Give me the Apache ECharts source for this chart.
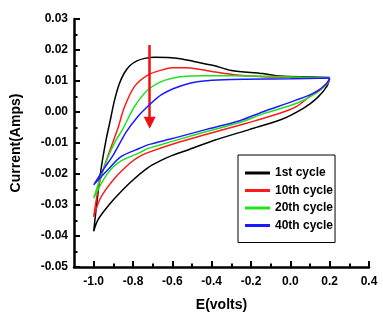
<!DOCTYPE html>
<html>
<head>
<meta charset="utf-8">
<script src="https://cdn.jsdelivr.net/npm/echarts@6/dist/echarts.min.js"></script>
<style>html,body{margin:0;padding:0;background:#fff}#c{width:383px;height:324px}</style>
</head>
<body>
<div id="c"></div>
<script>
var seriesNames = ['1st cycle', '10th cycle', '20th cycle', '40th cycle'];
var seriesColors = ['#000000', '#ff1a1a', '#22e022', '#1a1aff'];

var cycle1 = [[0.2,0.0108],[0.185,0.0082],[0.134,0.0044],[0.066,0.0012],[-0.053,-0.0026],[-0.206,-0.0056],[-0.39,-0.0092],[-0.511,-0.0120],[-0.6,-0.0140],[-0.66,-0.0157],[-0.725,-0.0180],[-0.81,-0.0225],[-0.895,-0.0280],[-0.95,-0.0322],[-0.98,-0.0350],[-1.0,-0.0385],
  [-0.985,-0.030],[-0.963,-0.0187],[-0.937,-0.009],[-0.915,-0.0025],[-0.895,0.0035],[-0.87,0.0090],[-0.845,0.0125],[-0.815,0.0150],[-0.78,0.0165],[-0.74,0.0173],[-0.69,0.0177],[-0.623,0.0176],[-0.56,0.0172],[-0.49,0.0163],[-0.39,0.0150],[-0.3,0.0134],[-0.14,0.0124],[-0.053,0.0116],[0.1,0.0113],[0.2,0.0111]];
var cycle10 = [[0.2,0.0108],[0.185,0.0088],[0.117,0.006],[0.032,0.0018],[-0.053,-0.0004],[-0.222,-0.0036],[-0.426,-0.0072],[-0.596,-0.0103],[-0.725,-0.0131],[-0.766,-0.0143],[-0.81,-0.0162],[-0.895,-0.0215],[-0.963,-0.0275],[-1.0,-0.0338],
  [-0.971,-0.023],[-0.929,-0.0144],[-0.878,-0.0055],[-0.844,0.0015],[-0.793,0.0082],[-0.725,0.0119],[-0.657,0.0135],[-0.6,0.0143],[-0.53,0.0143],[-0.45,0.0136],[-0.393,0.013],[-0.273,0.0119],[-0.138,0.0114],[0.2,0.011]];
var cycle20 = [[0.2,0.0108],[0.185,0.0091],[0.134,0.0062],[0.032,0.0028],[-0.138,-0.0006],[-0.257,-0.0034],[-0.426,-0.0063],[-0.596,-0.0094],[-0.725,-0.0118],[-0.766,-0.0131],[-0.861,-0.0158],[-0.929,-0.0198],[-1.0,-0.0278],
  [-0.97,-0.022],[-0.93,-0.015],[-0.89,-0.0095],[-0.852,-0.0055],[-0.793,0.0017],[-0.725,0.0071],[-0.657,0.0098],[-0.6,0.0109],[-0.53,0.0115],[-0.45,0.0117],[-0.3,0.0117],[-0.053,0.0114],[0.2,0.011]];
var cycle40 = [[0.2,0.0108],[0.185,0.0093],[0.134,0.0066],[0.032,0.0039],[-0.138,0.0001],[-0.257,-0.0028],[-0.426,-0.0056],[-0.596,-0.0085],[-0.725,-0.0106],[-0.766,-0.0117],[-0.861,-0.0144],[-0.929,-0.0187],[-1.0,-0.0235],
  [-0.95,-0.0185],[-0.9,-0.0138],[-0.835,-0.0065],[-0.776,-0.0015],[-0.708,0.0028],[-0.657,0.0055],[-0.596,0.0075],[-0.511,0.0093],[-0.426,0.0101],[-0.3,0.0105],[0.0,0.0107],[0.2,0.011]];

var xMajorTicks = [-1.0,-0.8,-0.6,-0.4,-0.2,0.0,0.2,0.4];
var xMinorTicks = [-0.9,-0.7,-0.5,-0.3,-0.1,0.1,0.3];
var arrowX = [-0.715, -0.715];
var arrowY = [0.0216, -0.0035];

var allData = [cycle1, cycle10, cycle20, cycle40];
var font = 'Liberation Sans, Arial, sans-serif';

var series = seriesNames.map(function (n, i) {
  return {
    name: n, type: 'line', data: allData[i], smooth: 0.3, symbol: 'none',
    lineStyle: { color: seriesColors[i], width: 1.5 }, itemStyle: { color: seriesColors[i] },
    z: 2 + i
  };
});
series.push({
  name: 'arrow', type: 'line', data: [], silent: true, z: 10,
  markLine: {
    silent: true, animation: false,
    symbol: ['none', 'triangle'], symbolSize: 12,
    label: { show: false },
    lineStyle: { color: '#ee1111', width: 2.5, type: 'solid' },
    itemStyle: { color: '#ee1111' },
    data: [[{ coord: [arrowX[0], arrowY[0]] }, { coord: [arrowX[1], arrowY[1]] }]]
  }
});

var chart = echarts.init(document.getElementById('c'), null, { renderer: 'canvas' });
chart.setOption({
  animation: false,
  backgroundColor: '#fff',
  grid: { left: 74, right: 14, top: 19, bottom: 57, containLabel: false },
  legend: {
    data: seriesNames, orient: 'vertical', left: 238, top: 155,
    backgroundColor: '#fff', borderColor: '#000', borderWidth: 1, borderRadius: 0,
    padding: [11, 2, 10, 7], itemGap: 3.5, itemWidth: 25, itemHeight: 3, icon: 'rect',
    textStyle: { fontFamily: font, fontWeight: 'bold', fontSize: 12, color: '#000', lineHeight: 14 }
  },
  xAxis: [{
    type: 'value', min: -1.1, max: 0.4, splitLine: { show: false },
    axisLine: { show: true, onZero: false, lineStyle: { color: '#000', width: 2.5 } },
    axisTick: { show: true, inside: true, length: 6, customValues: xMajorTicks, lineStyle: { color: '#000', width: 2 } },
    axisLabel: { show: true, customValues: xMajorTicks, margin: 9, fontFamily: font, fontWeight: 'bold', fontSize: 12, color: '#000',
      formatter: function (v) { return v.toFixed(1); } },
    name: 'E(volts)', nameLocation: 'middle', nameGap: 31,
    nameTextStyle: { fontFamily: font, fontWeight: 'bold', fontSize: 14, color: '#000' }
  }, {
    type: 'value', min: -1.1, max: 0.4, position: 'bottom', splitLine: { show: false },
    axisLine: { show: false, onZero: false },
    axisTick: { show: true, inside: true, length: 3.5, customValues: xMinorTicks, lineStyle: { color: '#000', width: 2 } },
    axisLabel: { show: false }
  }],
  yAxis: {
    type: 'value', min: -0.05, max: 0.03, interval: 0.01, splitLine: { show: false },
    axisLine: { show: true, onZero: false, lineStyle: { color: '#000', width: 2.5 } },
    axisTick: { show: true, inside: true, length: 6, lineStyle: { color: '#000', width: 2 } },
    minorTick: { show: true, splitNumber: 2, length: 3.5, lineStyle: { color: '#000', width: 2 } },
    axisLabel: { margin: 6, fontFamily: font, fontWeight: 'bold', fontSize: 12, color: '#000',
      formatter: function (v) { return v.toFixed(2); } },
    name: 'Current(Amps)', nameLocation: 'middle', nameGap: 51, nameRotate: 90,
    nameTextStyle: { fontFamily: font, fontWeight: 'bold', fontSize: 14, color: '#000' }
  },
  series: series
});
</script>
</body>
</html>
